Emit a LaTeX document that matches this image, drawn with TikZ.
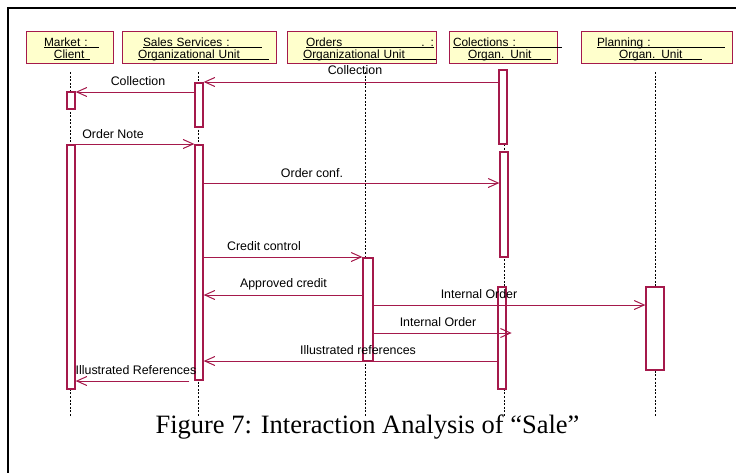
\documentclass[tikz,border=0pt]{standalone}
\usepackage{fontspec}
\setmainfont{Liberation Serif}
\setsansfont{Liberation Sans}
\usepackage{tikz}
\usetikzlibrary{arrows.meta,positioning,calc}
\definecolor{umlred}{RGB}{165,25,75}
\definecolor{umlfill}{RGB}{255,255,204}
\newcommand{\ulbox}[2]{\makebox[#1][l]{#2}\llap{\rule[-1.6pt]{#1}{0.7pt}}}

\begin{document}
\begin{tikzpicture}[x=1pt, y=-1pt,
  obj/.style={draw=umlred, line width=1pt, fill=umlfill, minimum height=32pt, inner sep=0pt, text width=#1, align=left, font=\sffamily\fontsize{11.9}{12}\selectfont},
  bar/.style={draw=umlred, line width=1.3pt, fill=white, minimum width=8pt, inner sep=0pt},
  life/.style={black, line width=0.8pt, dash pattern=on 2pt off 1.6pt},
  msg/.style={umlred, line width=1pt, -{Straight Barb[length=10pt,width=9pt]}},
  lbl/.style={font=\sffamily\fontsize{12.4}{14}\selectfont, anchor=base, inner sep=0pt},
]
\useasboundingbox (0,0) rectangle (736,472);
\draw[line width=1.4pt] (8,480) -- (8,8) -- (745,8);

% objects
\node[obj=87pt] (mkt) at (69.5,47) {\hspace*{18pt}\rule{0pt}{12.5pt}\ulbox{55pt}{Market :}\\\hspace*{28pt}\ulbox{36pt}{Client}};
\node[obj=154pt] (sal) at (199,47) {\hspace*{21pt}\rule{0pt}{12.5pt}\ulbox{119pt}{Sales Services :}\\\hspace*{16pt}\ulbox{131pt}{Organizational Unit}};
\node[obj=149pt] (ord) at (361.5,47) {\hspace*{19pt}\rule{0pt}{12.5pt}\ulbox{128pt}{Orders\hfill. :}\\\hspace*{16pt}\ulbox{133pt}{Organizational Unit}};
\node[obj=108pt] (col) at (503,47) {\hspace*{4pt}\rule{0pt}{12.5pt}\ulbox{109pt}{Colections :}\\\hspace*{19pt}\ulbox{83pt}{Organ. Unit}};
\node[obj=151pt] (pla) at (656.5,47) {\hspace*{16pt}\rule{0pt}{12.5pt}\ulbox{128pt}{Planning :}\\\hspace*{38pt}\ulbox{83pt}{Organ. Unit}};

% lifelines
\foreach \x in {70,198,365,504,655}
  \draw[life] (\x,72) -- (\x,417);

% activations
\node[bar, minimum height=17pt] (mb1) at (71,100.5) {};
\node[bar, minimum height=244pt] (mb2) at (71,267) {};
\node[bar, minimum height=44pt] (sb1) at (199,105) {};
\node[bar, minimum height=235pt] (sb2) at (199,262.5) {};
\node[bar, minimum width=10pt, minimum height=103pt] (ob1) at (368,309.5) {};
\node[bar, minimum height=74pt] (cb1) at (503,107) {};
\node[bar, minimum height=105pt] (cb2) at (504,204.5) {};
\node[bar, minimum height=102pt] (cb3) at (502,338) {};
\node[bar, minimum width=18pt, minimum height=83pt] (pb1) at (655,328.5) {};

% messages
\draw[msg] (cb1.west |- 0,82) -- (sb1.east |- 0,82);
\node[lbl] (m1) at (355,74) {Collection};
\draw[msg] (sb1.west |- 0,92) -- (mb1.east |- 0,92);
\node[lbl] (m2) at (138,85) {Collection};
\draw[msg] (mb2.east |- 0,144) -- (sb2.west |- 0,144);
\node[lbl] (m3) at (113,138) {Order Note};
\draw[msg] (sb2.east |- 0,183) -- (cb2.west |- 0,183);
\node[lbl] (m4) at (312,177) {Order conf.};
\draw[msg] (sb2.east |- 0,257) -- (ob1.west |- 0,257);
\node[lbl] (m5) at (264,250) {Credit control};
\draw[msg] (ob1.west |- 0,295) -- (sb2.east |- 0,295);
\node[lbl] (m6) at (283.5,287) {Approved credit};
\draw[msg] (ob1.east |- 0,305) -- (pb1.west |- 0,305);
\node[lbl] (m7) at (479,298) {Internal Order};
\draw[msg] (ob1.east |- 0,333) -- ([xshift=5pt]cb3.east |- 0,333);
\node[lbl] (m8) at (438,326) {Internal Order};
\draw[msg] (cb3.west |- 0,361) -- (sb2.east |- 0,361);
\node[lbl] (m9) at (358,354) {Illustrated references};
\draw[msg] ([xshift=-5pt]sb2.west |- 0,381) -- (mb2.east |- 0,381);
\node[lbl] (m10) at (136,374) {Illustrated References};

\node[font=\fontsize{26.5}{30}\selectfont, anchor=base] (cap) at (367.5,433) {Figure 7: Interaction Analysis of “Sale”};
\end{tikzpicture}
\end{document}
